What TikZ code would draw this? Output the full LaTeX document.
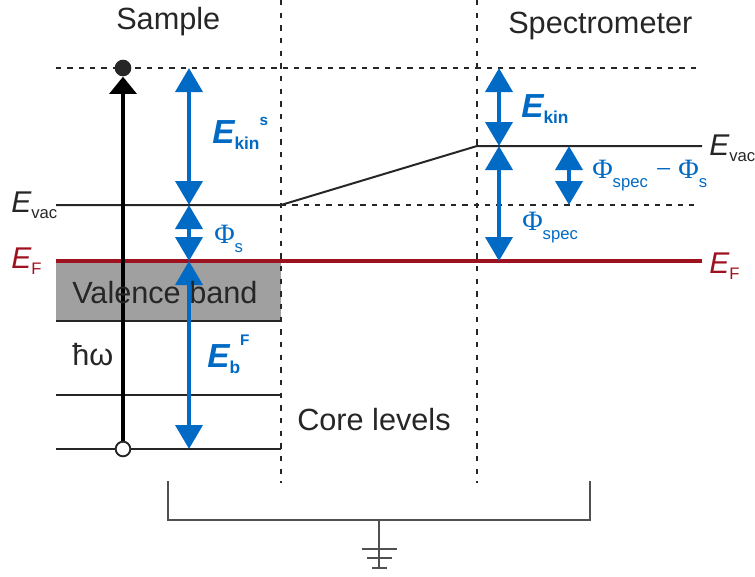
\documentclass[tikz,border=0pt]{standalone}
\usepackage{fontspec}
\setmainfont{Liberation Sans}
\newfontfamily\phifont{Liberation Serif}
\usepackage{xcolor}
\usepackage{tikz}
\usetikzlibrary{arrows.meta, positioning}
\definecolor{myblue}{RGB}{0,106,196}
\definecolor{myred}{RGB}{158,18,32}
\definecolor{mydark}{RGB}{38,38,38}
\definecolor{mygray}{RGB}{160,160,160}
\definecolor{mywire}{RGB}{80,80,80}
% energy labels
\newcommand{\energy}[1]{{\fontsize{22.5}{24}\selectfont\itshape E}\raisebox{-5pt}{\fontsize{12.5}{14}\selectfont #1}}
\newcommand{\bluee}[3]{{\fontsize{25}{27}\selectfont\bfseries\itshape E}\raisebox{-4.5pt}{\fontsize{13}{14}\selectfont\bfseries #1}\raisebox{#3}{\fontsize{11.5}{13}\selectfont\bfseries #2}}
\newcommand{\workf}[1]{{\phifont\fontsize{21}{23}\selectfont Φ}\raisebox{-7pt}{\fontsize{12.5}{14}\selectfont #1}}
\tikzset{
  level/.style={line width=1.5pt, color=mydark},
  fermi/.style={line width=3pt, color=myred},
  dashline/.style={line width=1.5pt, color=mydark, dash pattern=on 4pt off 4.5pt},
  divider/.style={line width=1.6pt, color=mydark, dash pattern=on 4pt off 5.5pt},
  barrow/.style={{Triangle[width=20pt,length=18pt]}-{Triangle[width=20pt,length=18pt]},
    line width=3.6pt, color=myblue},
  photon/.style={-{Triangle[width=20pt,length=13pt]}, line width=3.4pt, color=black},
  wire/.style={line width=1.1pt, color=mywire},
  bigtext/.style={font=\fontsize{23}{26}\selectfont, text=mydark, inner sep=0pt, anchor=base west},
  elabel/.style={text=mydark, inner sep=0pt, anchor=base west},
  blabel/.style={text=myblue, inner sep=0pt, anchor=base west},
  electron/.style={circle, fill=mydark, inner sep=0pt, minimum size=12.5pt},
  hole/.style={circle, draw=mydark, fill=white, line width=1.4pt, inner sep=0pt, minimum size=11pt}
}

\begin{document}
\begin{tikzpicture}[x=0.75pt, y=-0.75pt]
  \useasboundingbox (0,0) rectangle (755,576);

  % Valence band
  \fill[mygray] (56,261) rectangle (281,321);

  % Level end points
  \coordinate (topL) at (56,68);
  \coordinate (topR) at (697,68);
  \coordinate (vacL) at (56,205);
  \coordinate (vacM) at (281,205);
  \coordinate (vacS) at (477,146);
  \coordinate (vacR) at (702,146);
  \coordinate (dashR) at (697,205);
  \coordinate (efL) at (56,261);
  \coordinate (efR) at (702,261);
  \coordinate (vbL) at (56,321);
  \coordinate (vbR) at (281,321);
  \coordinate (coreAL) at (56,395);
  \coordinate (coreAR) at (281,395);
  \coordinate (coreBL) at (56,449);
  \coordinate (coreBR) at (281,449);

  % Dividers
  \coordinate (sampTop) at (281,0);
  \coordinate (sampBot) at (281,483);
  \coordinate (specTop) at (477,0);
  \coordinate (specBot) at (477,483);
  \draw[divider] (sampTop) -- (sampBot);
  \draw[divider] (specTop) -- (specBot);

  % Levels
  \draw[dashline] (topL) -- (topR);
  \draw[dashline] (vacM) -- (dashR);
  \draw[level] (vacL) -- (vacM) -- (vacS) -- (vacR);
  \draw[level] (vbL) -- (vbR);
  \draw[level] (coreAL) -- (coreAR);
  \draw[level] (coreBL) -- (coreBR);
  \draw[fermi] (efL) -- (efR);

  % Photoemission
  \node[electron] (elec) at (123,68) {};
  \node[hole] (hole) at (123,449) {};
  \draw[photon] (hole) -- (elec);

  % Energy arrows
  \coordinate (sx) at (189,0);
  \coordinate (px) at (499,0);
  \coordinate (dx) at (569,0);
  \draw[barrow] (topL -| sx) -- (vacL -| sx);
  \draw[barrow] (vacL -| sx) -- (efL -| sx);
  \draw[barrow] (efL -| sx) -- (coreBL -| sx);
  \draw[barrow] (topL -| px) -- (vacS -| px);
  \draw[barrow] (vacS -| px) -- (efL -| px);
  \draw[barrow] (vacS -| dx) -- (dashR -| dx);

  % Ground
  \coordinate (brL) at (168,481);
  \coordinate (brLb) at (168,520);
  \coordinate (brR) at (590,481);
  \coordinate (brRb) at (590,520);
  \coordinate (gnd) at (379,520);
  \coordinate (gndB) at (379,568);
  \draw[wire] (brL) -- (brLb) -- (brRb) -- (brR);
  \draw[wire] (gnd) -- (gndB);
  \draw[wire] (362,549) -- (397,549);
  \draw[wire] (367,558) -- (392,558);
  \draw[wire] (372,568) -- (387,568);

  % Text
  \node[bigtext] (sample) at (116,29) {Sample};
  \node[bigtext] (spectro) at (508,33) {Spectrometer};
  \node[bigtext] (vb) at (72,303) {Valence band};
  \node[bigtext] (core) at (297,430) {Core levels};
  \node[bigtext] (hw) at (72,365) {ħω};
  \node[elabel] (evacL) at (11,212) {\energy{vac}};
  \node[elabel] (evacR) at (709,155) {\energy{vac}};
  \node[elabel, text=myred] (efLab) at (11,268) {\energy{F}};
  \node[elabel, text=myred] (efRab) at (709,273) {\energy{F}};
  \node[blabel] (ekinS) at (212,143) {\bluee{kin}{s}{13pt}};
  \node[blabel] (ekin) at (521,117) {\bluee{kin}{}{0pt}};
  \node[blabel] (ebF) at (207,367) {\bluee{b}{F}{16pt}};
  \node[blabel] (phiS) at (214,243) {\workf{s}};
  \node[blabel] (phiSp) at (522,230) {\workf{spec}};
  \node[blabel] (phiD) at (592,178) {\workf{spec}\hspace{6pt}{\phifont\fontsize{21}{23}\selectfont −}\hspace{5pt}\workf{s}};
\end{tikzpicture}
\end{document}
